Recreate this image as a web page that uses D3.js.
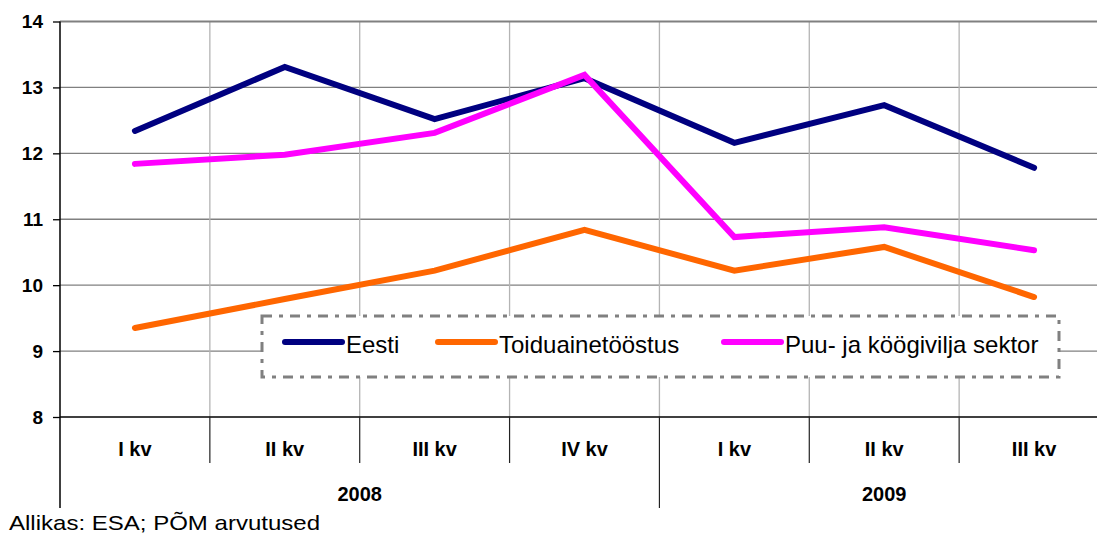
<!DOCTYPE html>
<html>
<head>
<meta charset="utf-8">
<script src="https://cdn.jsdelivr.net/npm/d3@7"></script>
<style>
  body { margin: 0; background: #fff; }
  svg { display: block; font-family: Arial, "Liberation Sans", sans-serif; }
</style>
</head>
<body>
<svg id="viz" width="1097" height="533"></svg>
<script>
const quarters = ["I kv", "II kv", "III kv", "IV kv", "I kv", "II kv", "III kv"],
    years = [{ label: "2008", from: 0, to: 4 }, { label: "2009", from: 4, to: 7 }],
    yTicks = [8, 9, 10, 11, 12, 13, 14]

const eesti = [12.34, 13.31, 12.52, 13.14, 12.16, 12.73, 11.78],
    toidu = [9.35, 9.79, 10.22, 10.84, 10.22, 10.58, 9.82],
    puu = [11.84, 11.98, 12.31, 13.19, 10.73, 10.88, 10.53]

const series = [
    { name: "Eesti", values: eesti, color: "#000080" },
    { name: "Toiduainetööstus", values: toidu, color: "#ff6600" },
    { name: "Puu- ja köögivilja sektor", values: puu, color: "#ff00ff" }
]

const svg = d3.select("#viz"),
    plotLeft = 60,
    plotRight = 1109,
    plotTop = 21.5,
    plotBottom = 417

const x = d3.scaleBand().domain(d3.range(quarters.length)).range([plotLeft, plotRight])
const y = d3.scaleLinear().domain([8, 14]).range([plotBottom, plotTop])

// horizontal gridlines
svg.append("g")
    .selectAll("line")
    .data(yTicks.filter(d => d > 8 && d < 14))
    .enter().append("line")
    .attr("x1", plotLeft).attr("x2", plotRight)
    .attr("y1", d => y(d)).attr("y2", d => y(d))
    .attr("stroke", "#808080").attr("stroke-width", 1.3)

// vertical gridlines
svg.append("g")
    .selectAll("line")
    .data(d3.range(1, quarters.length))
    .enter().append("line")
    .attr("x1", d => x(d)).attr("x2", d => x(d))
    .attr("y1", plotTop).attr("y2", plotBottom)
    .attr("stroke", "#b4b4b4").attr("stroke-width", 1.3)

// top border
svg.append("line")
    .attr("x1", plotLeft).attr("x2", plotRight)
    .attr("y1", plotTop).attr("y2", plotTop)
    .attr("stroke", "#808080").attr("stroke-width", 2.2)

// y axis
const yAxis = svg.append("g")
    .attr("transform", `translate(${plotLeft},0)`)
    .call(d3.axisLeft(y).tickValues(yTicks).tickSize(7).tickPadding(10).tickFormat(d3.format("d")))
yAxis.select(".domain").remove()
yAxis.selectAll(".tick line").attr("stroke", "#000").attr("stroke-width", 1.3)
yAxis.selectAll("text")
    .attr("font-size", 19).attr("font-weight", "bold").attr("fill", "#000")
    .attr("font-family", "Arial, 'Liberation Sans', sans-serif")

// left axis line
svg.append("line")
    .attr("x1", plotLeft).attr("x2", plotLeft)
    .attr("y1", plotTop).attr("y2", 508)
    .attr("stroke", "#000").attr("stroke-width", 1.5)

// x axis line
svg.append("line")
    .attr("x1", plotLeft).attr("x2", plotRight)
    .attr("y1", plotBottom).attr("y2", plotBottom)
    .attr("stroke", "#000").attr("stroke-width", 1.5)

// category separators below axis
svg.append("g")
    .selectAll("line")
    .data(d3.range(1, quarters.length))
    .enter().append("line")
    .attr("x1", d => x(d)).attr("x2", d => x(d))
    .attr("y1", plotBottom).attr("y2", d => years.some(g => g.from === d) ? 508 : 463)
    .attr("stroke", "#222").attr("stroke-width", 1.2)

// quarter labels
svg.append("g")
    .selectAll("text")
    .data(quarters)
    .enter().append("text")
    .attr("x", (d, i) => x(i) + x.bandwidth() / 2)
    .attr("y", 456)
    .attr("text-anchor", "middle")
    .attr("font-size", 20).attr("font-weight", "bold")
    .text(d => d)

// year labels
svg.append("g")
    .selectAll("text")
    .data(years)
    .enter().append("text")
    .attr("x", d => (x(d.from) + x(d.to - 1) + x.bandwidth()) / 2)
    .attr("y", 501)
    .attr("text-anchor", "middle")
    .attr("font-size", 20).attr("font-weight", "bold")
    .text(d => d.label)

// lines
const line = d3.line()
    .x((d, i) => x(i) + x.bandwidth() / 2)
    .y(d => y(d))

svg.append("g")
    .selectAll("path")
    .data(series)
    .enter().append("path")
    .attr("d", d => line(d.values))
    .attr("fill", "none")
    .attr("stroke", d => d.color)
    .attr("stroke-width", 6)
    .attr("stroke-linecap", "round")
    .attr("stroke-linejoin", "miter")

// legend
const legend = svg.append("g").attr("class", "legend")
legend.append("rect")
    .attr("x", 262).attr("y", 316)
    .attr("width", 797).attr("height", 61)
    .attr("fill", "#fff")
    .attr("stroke", "#808080").attr("stroke-width", 3)
    .attr("stroke-dasharray", "10,7,4,7")

const legendX = [285, 438, 724]
const item = legend.selectAll(".item")
    .data(series)
    .enter().append("g")
    .attr("class", "item")
    .attr("transform", (d, i) => `translate(${legendX[i]},342)`)
item.append("line")
    .attr("x1", 0).attr("x2", 57)
    .attr("stroke", d => d.color)
    .attr("stroke-width", 6)
    .attr("stroke-linecap", "round")
item.append("text")
    .attr("x", 61).attr("y", 11)
    .attr("font-size", 24)
    .text(d => d.name)

// source
svg.append("text")
    .attr("x", 9).attr("y", 530)
    .attr("font-size", 21)
    .attr("textLength", 311)
    .attr("lengthAdjust", "spacingAndGlyphs")
    .text("Allikas: ESA; PÕM arvutused")
</script>
</body>
</html>
